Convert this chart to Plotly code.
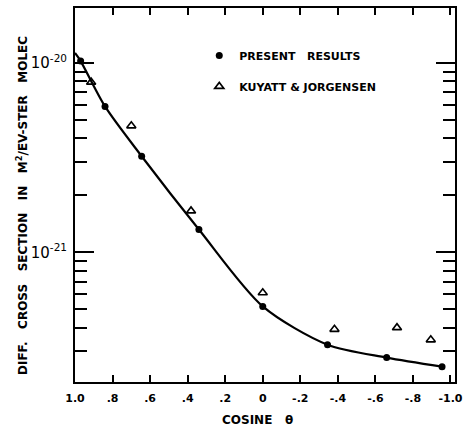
import plotly.graph_objects as go

# Present results (filled circles)
present_cos = [0.97, 0.84, 0.645, 0.34, 0.0, -0.345, -0.66, -0.955]
present_val = [1.025e-20, 5.9e-21, 3.22e-21, 1.32e-21, 5.18e-22, 3.25e-22, 2.78e-22, 2.49e-22]

# Kuyatt & Jorgensen (open triangles)
kj_cos = [0.914, 0.70, 0.382, 0.0, -0.382, -0.715, -0.895]
kj_val = [7.93e-21, 4.66e-21, 1.656e-21, 6.12e-22, 3.92e-22, 4.0e-22, 3.45e-22]

# Smooth curve drawn through the present results
curve_cos = [1.0, 0.97, 0.84, 0.645, 0.34, 0.0, -0.345, -0.66, -0.955]
curve_val = [1.13e-20, 1.025e-20, 5.9e-21, 3.22e-21, 1.32e-21, 5.18e-22, 3.25e-22, 2.78e-22, 2.49e-22]

x_tickvals = [1.0, 0.8, 0.6, 0.4, 0.2, 0.0, -0.2, -0.4, -0.6, -0.8, -1.0]
x_ticktext = ["1.0", ".8", ".6", ".4", ".2", "0", "-.2", "-.4", "-.6", "-.8", "-1.0"]
y_tickvals = [1e-21, 1e-20]
y_ticktext = ["10<sup>-21</sup>", "10<sup>-20</sup>"]
y_minor = [m * 1e-22 for m in range(2, 10)] + [m * 1e-21 for m in range(2, 10)]

FONT = "DejaVu Sans"

fig = go.Figure()
fig.add_trace(go.Scatter(x=curve_cos, y=curve_val, mode="lines", line=dict(color="black", width=2.2, shape="spline", smoothing=0.8),
                         showlegend=False, hoverinfo="skip"))
fig.add_trace(go.Scatter(x=present_cos, y=present_val, mode="markers", name="PRESENT&nbsp;&nbsp; RESULTS",
                         marker=dict(symbol="circle", size=7, color="black"), legendgroup="a"))
fig.add_trace(go.Scatter(x=kj_cos, y=kj_val, mode="markers", name="KUYATT & JORGENSEN",
                         marker=dict(symbol="triangle-up-open", size=8, color="black", line=dict(width=1.6)), legendgroup="b"))

fig.update_layout(
    width=464, height=428,
    margin=dict(l=75, r=9, t=8, b=46),
    paper_bgcolor="white", plot_bgcolor="white",
    font=dict(family=FONT, color="black", size=11),
    showlegend=True,
    legend=dict(x=0.327, y=0.912, xanchor="left", yanchor="top", bgcolor="rgba(0,0,0,0)",
                font=dict(family=FONT, size=11, color="black", weight="bold"), tracegroupgap=12),
    xaxis=dict(range=[1.0, -1.024], tickvals=x_tickvals, ticktext=x_ticktext,
               ticks="inside", ticklen=7, tickwidth=1.5, tickcolor="black",
               showline=True, linecolor="black", linewidth=2, mirror="ticks",
               showgrid=False, zeroline=False, ticklabelstandoff=5, automargin=False,
               tickfont=dict(family=FONT, size=11, weight="bold")),
    yaxis=dict(type="log", range=[-21.685, -19.709], tickvals=y_tickvals, ticktext=y_ticktext,
               ticks="inside", ticklen=19, tickwidth=1.5, tickcolor="black",
               showline=True, linecolor="black", linewidth=2, mirror="ticks",
               showgrid=False, zeroline=False, ticklabelstandoff=3, automargin=False,
               tickfont=dict(family=FONT, size=15),
               minor=dict(tickvals=y_minor, ticks="inside", ticklen=12, tickwidth=1.5, tickcolor="black", showgrid=False)),
)

fig.add_annotation(text="DIFF.&nbsp;&nbsp; CROSS&nbsp;&nbsp; SECTION&nbsp;&nbsp; IN&nbsp;&nbsp; M<sup>2</sup>/EV-STER&nbsp;&nbsp; MOLEC",
                   xref="paper", yref="paper", x=-0.139, y=0.471, textangle=-90, showarrow=False,
                   xanchor="center", yanchor="middle",
                   font=dict(family=FONT, size=12, weight="bold", color="black"))
fig.add_annotation(text="COSINE&nbsp;&nbsp; θ", xref="paper", yref="paper", x=0.479, y=-0.1025,
                   showarrow=False, xanchor="center", yanchor="middle",
                   font=dict(family=FONT, size=12, weight="bold", color="black"))

fig.write_html("out.html", config={"displayModeBar": False},
               post_script="document.body.style.margin='0';document.body.style.overflow='hidden';")
